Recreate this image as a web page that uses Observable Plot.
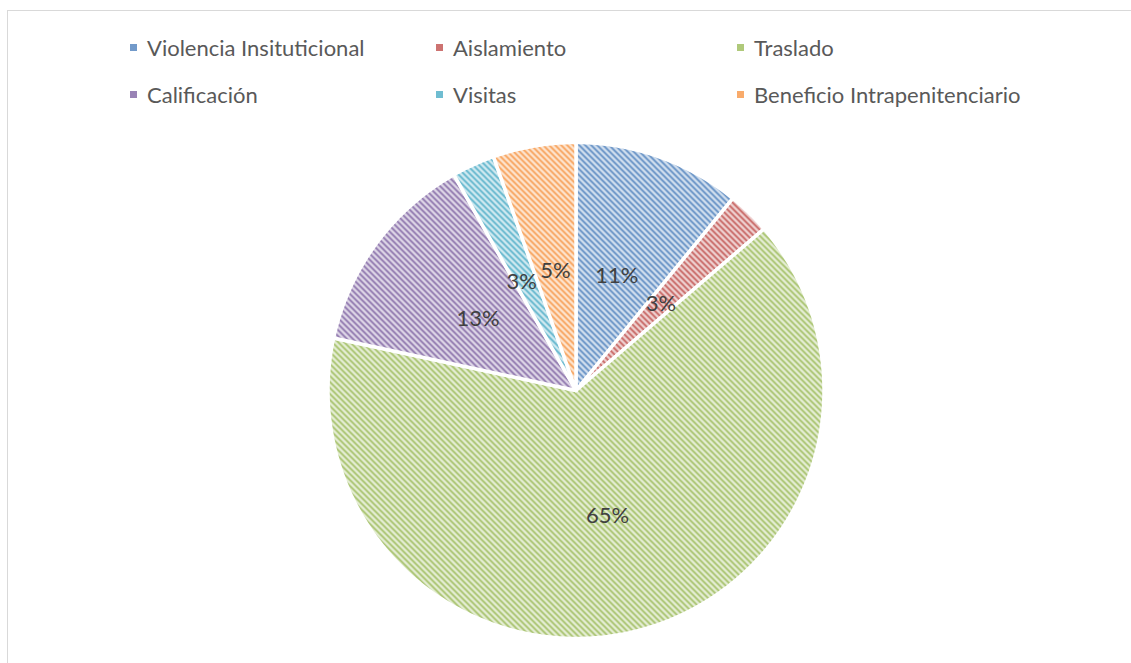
<!DOCTYPE html>
<html><head><meta charset="utf-8">
<script src="https://cdn.jsdelivr.net/npm/d3@7"></script>
<script src="https://cdn.jsdelivr.net/npm/@observablehq/plot@0.6"></script>
<style>
body{margin:0;background:#fff;overflow:hidden}
#wrap{position:relative;width:1131px;height:663px;overflow:hidden;font-family:Lato,"Open Sans",sans-serif}
#frame{position:absolute;left:7px;top:10px;width:1200px;height:700px;border:1.5px solid #d9d9d9;box-sizing:border-box}
#legend{position:absolute;left:0;top:0;width:1131px;height:130px}
#chart{position:absolute;left:0;top:130px}
</style></head><body>
<div id="wrap"><div id="frame"></div><div id="legend"></div><div id="chart"></div></div>
<script>
const categories = ["Violencia Insituticional","Aislamiento","Traslado","Calificación","Visitas","Beneficio Intrapenitenciario"];
const shares = [10.9, 2.8, 64.7, 13.4, 2.8, 5.4];
const labels = ["11%","3%","65%","13%","3%","5%"];
const colors = ["#4f81bd","#c0504d","#9bbb59","#8064a2","#4bacc6","#f79646"];

function patternDefs(prefix) {
  return "<defs>" + colors.map((c, i) => {
    const bg = d3.interpolateRgb("#ffffff", c)(0.25);
    return `<pattern id="${prefix}${i}" patternUnits="userSpaceOnUse" width="6" height="6">
      <rect width="6" height="6" fill="${bg}"/>
      <path d="M-1,-1L7,7M-1,5L1,7M5,-1L7,1" stroke="${c}" stroke-width="1.7" stroke-opacity="0.9"/>
    </pattern>`;
  }).join("") + "</defs>";
}

const arcs = d3.pie().sort(null).value(d => d)(shares);
const slices = arcs.map((a, i) => {
  const pts = [{x: 0, y: 0}];
  const n = Math.max(4, Math.ceil((a.endAngle - a.startAngle) / 0.01));
  for (let k = 0; k <= n; k++) {
    const t = a.startAngle + (a.endAngle - a.startAngle) * k / n;
    pts.push({x: Math.sin(t), y: Math.cos(t)});
  }
  return pts;
});

// label positions (inside, Excel-like), nudging a tiny slice's label if it would collide with the next
const lr = 0.49;
const labelData = arcs.map((a, i) => {
  let t = (a.startAngle + a.endAngle) / 2;
  const next = arcs[i + 1];
  if (next && (a.endAngle - a.startAngle) < 0.25 && (next.endAngle - next.startAngle) < 0.5 && i > 1) {
    t = a.startAngle + 0.3 * (a.endAngle - a.startAngle);
  }
  const r = (a.endAngle - a.startAngle) > Math.PI ? 0.52 : lr;
  return {x: r * Math.sin(t), y: r * Math.cos(t), text: labels[i]};
});

const chart = Plot.plot({
  width: 1131,
  height: 533,
  marginLeft: 327.5,
  marginRight: 307.5,
  marginTop: 12,
  marginBottom: 25,
  x: {domain: [-1, 1], axis: null},
  y: {domain: [-1, 1], axis: null},
  marks: [
    ...slices.map((pts, i) => Plot.line(pts, {
      x: "x", y: "y", curve: "linear-closed",
      fill: `url(#pat${i})`, stroke: "white", strokeWidth: 3.5, strokeLinejoin: "round"
    })),
    Plot.text(labelData, {x: "x", y: "y", text: "text", fontSize: 22, fill: "#404040",
      fontFamily: "Lato, 'Open Sans', sans-serif"})
  ]
});
chart.insertAdjacentHTML("afterbegin", patternDefs("pat"));
document.getElementById("chart").appendChild(chart);

// legend
const colX = [130, 436, 737];
const rowY = [56, 103];
const ns = "http://www.w3.org/2000/svg";
const lg = document.createElementNS(ns, "svg");
lg.setAttribute("width", 1131); lg.setAttribute("height", 130);
lg.innerHTML = patternDefs("lpat");
categories.forEach((c, i) => {
  const x = colX[i % 3], y = rowY[Math.floor(i / 3)];
  const r = document.createElementNS(ns, "rect");
  r.setAttribute("x", x); r.setAttribute("y", y - 12); r.setAttribute("width", 7); r.setAttribute("height", 7);
  r.setAttribute("fill", colors[i]); r.setAttribute("fill-opacity", 0.8);
  lg.appendChild(r);
  const t = document.createElementNS(ns, "text");
  t.setAttribute("x", x + 17); t.setAttribute("y", y);
  t.setAttribute("font-size", 22); t.setAttribute("fill", "#595959");
  t.setAttribute("font-family", "Lato, 'Open Sans', sans-serif");
  t.textContent = c;
  lg.appendChild(t);
});
document.getElementById("legend").appendChild(lg);
</script>
</body></html>
